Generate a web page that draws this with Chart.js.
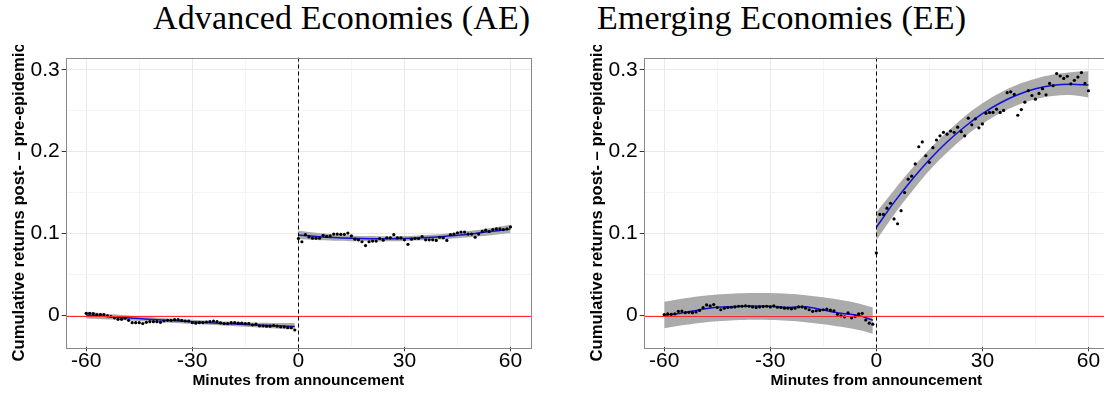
<!DOCTYPE html>
<html><head><meta charset="utf-8">
<script src="https://cdn.jsdelivr.net/npm/chart.js@4.4.0/dist/chart.umd.min.js"></script>
<style>
html,body{margin:0;padding:0;background:#fff;width:1104px;height:395px;overflow:hidden;position:relative}
.title{position:absolute;font-family:'Liberation Serif','Times New Roman',serif;font-size:34px;line-height:34px;letter-spacing:0.15px;white-space:nowrap;color:#000}
.box{position:absolute;top:45px;height:350px;width:545px}
canvas{display:block}
</style></head><body>
<div class="title" style="left:153px;top:1px">Advanced Economies (AE)</div>
<div class="title" style="left:597px;top:1px">Emerging Economies (EE)</div>
<div class="box" style="left:0"><canvas id="c1" width="545" height="350"></canvas></div>
<div class="box" style="left:578px"><canvas id="c2" width="545" height="350"></canvas></div>
<script>
// ---- categories ----
const minutesPre = [-60,-59,-58,-57,-56,-55,-54,-53,-52,-51,-50,-49,-48,-47,-46,-45,-44,-43,-42,-41,-40,-39,-38,-37,-36,-35,-34,-33,-32,-31,-30,-29,-28,-27,-26,-25,-24,-23,-22,-21,-20,-19,-18,-17,-16,-15,-14,-13,-12,-11,-10,-9,-8,-7,-6,-5,-4,-3,-2,-1];
const minutesPost = [0,1,2,3,4,5,6,7,8,9,10,11,12,13,14,15,16,17,18,19,20,21,22,23,24,25,26,27,28,29,30,31,32,33,34,35,36,37,38,39,40,41,42,43,44,45,46,47,48,49,50,51,52,53,54,55,56,57,58,59,60];
const fitMinutesPre = [-60,-55,-50,-45,-40,-35,-30,-25,-20,-15,-10,-5,-1];
const fitMinutesPost = [0,5,10,15,20,25,30,35,40,45,50,55,60];

// ---- Advanced Economies ----
const aePre = [0.0027,0.0027,0.0023,0.0011,0.0011,0.0011,-0.0004,-0.0012,-0.0028,-0.0047,
 -0.0047,-0.0032,-0.0059,-0.0087,-0.0087,-0.0087,-0.0098,-0.0083,-0.0075,-0.0075,
 -0.0075,-0.0083,-0.0067,-0.0059,-0.0059,-0.0051,-0.0051,-0.0059,-0.0067,-0.0067,
 -0.0087,-0.0094,-0.0087,-0.0087,-0.0079,-0.0075,-0.0067,-0.0075,-0.0090,-0.0098,
 -0.0098,-0.0087,-0.0087,-0.0094,-0.0094,-0.0098,-0.0098,-0.0114,-0.0106,-0.0126,
 -0.0126,-0.0130,-0.0130,-0.0122,-0.0130,-0.0138,-0.0138,-0.0149,-0.0149,-0.0177];
const aePost = [0.0940,0.0900,0.0987,0.0959,0.0944,0.0944,0.0944,0.0979,0.0967,0.0971,
 0.0994,0.0994,0.0991,0.0991,0.1006,0.0971,0.0932,0.0924,0.0900,0.0853,
 0.0900,0.0908,0.0908,0.0940,0.0920,0.0948,0.0948,0.0987,0.0948,0.0948,
 0.0924,0.0869,0.0932,0.0940,0.0940,0.0963,0.0924,0.0924,0.0924,0.0916,
 0.0955,0.0948,0.0916,0.0987,0.0994,0.1010,0.1018,0.1018,0.0994,0.0994,
 0.0955,0.0994,0.1026,0.1041,0.1026,0.1049,0.1057,0.1057,0.1049,0.1057,0.1081];
const aeFitPre = [0.0005,-0.0010,-0.0024,-0.0038,-0.0052,-0.0065,-0.0077,-0.0089,-0.0100,-0.0110,-0.0119,-0.0127,-0.0133];
const aeUpPre  = [0.0045,0.0025,0.0007,-0.0010,-0.0026,-0.0040,-0.0052,-0.0064,-0.0074,-0.0082,-0.0088,-0.0092,-0.0094];
const aeLoPre  = [-0.0035,-0.0045,-0.0055,-0.0066,-0.0078,-0.0090,-0.0102,-0.0114,-0.0126,-0.0138,-0.0150,-0.0162,-0.0172];
const aeFitPost = [0.0983,0.0965,0.0951,0.0942,0.0937,0.0936,0.0940,0.0949,0.0961,0.0979,0.1001,0.1027,0.1057];
const aeUpPost  = [0.1033,0.1009,0.0990,0.0977,0.0969,0.0967,0.0970,0.0980,0.0993,0.1014,0.1040,0.1071,0.1107];
const aeLoPost  = [0.0933,0.0921,0.0912,0.0907,0.0905,0.0905,0.0910,0.0918,0.0929,0.0944,0.0962,0.0983,0.1007];

// ---- Emerging Economies ----
const eePre = [0.0011,0.0019,0.0015,0.0019,0.0051,0.0054,0.0035,0.0039,0.0035,0.0043,
 0.0062,0.0098,0.0129,0.0117,0.0133,0.0098,0.0070,0.0090,0.0098,0.0101,
 0.0105,0.0113,0.0113,0.0117,0.0113,0.0105,0.0098,0.0105,0.0109,0.0113,
 0.0105,0.0117,0.0101,0.0098,0.0090,0.0090,0.0082,0.0090,0.0105,0.0105,
 0.0090,0.0070,0.0051,0.0058,0.0062,0.0070,0.0078,0.0066,0.0058,0.0015,
 -0.0004,-0.0016,0.0031,-0.0028,-0.0012,0.0019,0.0027,-0.0055,-0.0094,-0.0106];
const eePost = [0.0764,0.1234,0.1234,0.1310,0.1370,0.1179,0.1120,0.1280,0.1500,0.1664,
 0.1700,0.1850,0.2060,0.2119,0.1950,0.1870,0.2048,0.2142,0.2193,0.2236,
 0.2213,0.2252,0.2236,0.2299,0.2244,0.2193,0.2409,0.2327,0.2401,0.2291,
 0.2338,0.2468,0.2479,0.2479,0.2518,0.2479,0.2503,0.2720,0.2730,0.2698,
 0.2444,0.2514,0.2604,0.2745,0.2685,0.2640,0.2710,0.2768,0.2693,0.2832,
 0.2804,0.2953,0.2923,0.2894,0.2920,0.2826,0.2871,0.2910,0.2965,0.2832,0.2743];
const eeFitPre = [0.0004,0.0031,0.0071,0.0102,0.0110,0.0117,0.0114,0.0098,0.0106,0.0067,0.0028,0.0000,-0.0058];
const eeUpPre  = [0.0168,0.0205,0.0235,0.0256,0.0270,0.0276,0.0274,0.0265,0.0248,0.0222,0.0189,0.0148,0.0100];
const eeLoPre  = [-0.0157,-0.0120,-0.0090,-0.0070,-0.0058,-0.0053,-0.0055,-0.0064,-0.0081,-0.0106,-0.0138,-0.0178,-0.0222];
const eeFitPost = [0.1077,0.1381,0.1654,0.1900,0.2117,0.2304,0.2463,0.2594,0.2694,0.2767,0.2810,0.2824,0.2812];
const eeUpPost  = [0.1260,0.1530,0.1790,0.2030,0.2240,0.2430,0.2590,0.2720,0.2820,0.2890,0.2940,0.2970,0.2980];
const eeLoPost  = [0.0920,0.1230,0.1510,0.1770,0.1990,0.2180,0.2340,0.2470,0.2570,0.2640,0.2680,0.2690,0.2660];

// ---- axes ----
const xGridValues = [-60,-45,-30,-15,0,15,30,45,60];
const xTickValues = [-60,-30,0,30,60];
const xTickLabels = ['-60','-30','0','30','60'];
const yGridValues = [0,0.05,0.1,0.15,0.2,0.25,0.3];
const yTickValues = [0,0.1,0.2,0.3];
const yTickLabels = ['0','0.1','0.2','0.3'];
const xRange = [-65.8, 65.8];
const yRange = [-0.0388, 0.3149];
const hLineValue = 0;
const vLineValue = 0;
const xTitle = 'Minutes from announcement';
const yTitle = 'Cumulative returns post- \u2013 pre-epidemic';

const pts = (xs, ys) => xs.map((x,i)=>({x, y: ys[i]}));
const idxOf = (arr, v) => arr.findIndex(a => Math.abs(a - v) < 1e-9);

const SANS = "'Liberation Sans', Arial, Helvetica, sans-serif";
const BAND = '#ababab';
const FIT = '#1010d8';

const refPlugin = {
  id: 'refLines',
  afterDatasetsDraw(chart) {
    const {ctx, chartArea: a, scales: {x, y}} = chart;
    ctx.save();
    ctx.beginPath(); ctx.rect(a.left, a.top, a.right - a.left, a.bottom - a.top); ctx.clip();
    const y0 = Math.round(y.getPixelForValue(hLineValue)) + 0.5;
    ctx.strokeStyle = '#ff2a2a'; ctx.lineWidth = 1;
    ctx.beginPath(); ctx.moveTo(a.left, y0); ctx.lineTo(a.right, y0); ctx.stroke();
    const x0 = Math.round(x.getPixelForValue(vLineValue)) + 0.5;
    ctx.strokeStyle = '#000'; ctx.setLineDash([4, 3]);
    ctx.beginPath(); ctx.moveTo(x0, a.top); ctx.lineTo(x0, a.bottom); ctx.stroke();
    ctx.restore();
    ctx.save();
    ctx.strokeStyle = '#8a8a8a'; ctx.lineWidth = 1;
    ctx.strokeRect(Math.round(a.left) + 0.5, Math.round(a.top) + 0.5, Math.round(a.right - a.left), Math.round(a.bottom - a.top));
    ctx.restore();
  }
};

function makeChart(id, pre, post, fitPre, upPre, loPre, fitPost, upPost, loPost) {
  const bandStyle = {borderWidth: 0, pointRadius: 0, tension: 0.35, backgroundColor: BAND};
  return new Chart(document.getElementById(id), {
    type: 'line',
    data: {
      datasets: [
        {data: pts(minutesPre, pre), showLine: false, pointRadius: 1.6, pointBackgroundColor: '#000', pointBorderWidth: 0},
        {data: pts(minutesPost, post), showLine: false, pointRadius: 1.6, pointBackgroundColor: '#000', pointBorderWidth: 0},
        {data: pts(fitMinutesPre, fitPre), borderColor: FIT, borderWidth: 1.5, pointRadius: 0, tension: 0.35, fill: false},
        {data: pts(fitMinutesPost, fitPost), borderColor: FIT, borderWidth: 1.5, pointRadius: 0, tension: 0.35, fill: false},
        Object.assign({data: pts(fitMinutesPre, loPre), fill: false}, bandStyle),
        Object.assign({data: pts(fitMinutesPre, upPre), fill: '-1'}, bandStyle),
        Object.assign({data: pts(fitMinutesPost, loPost), fill: false}, bandStyle),
        Object.assign({data: pts(fitMinutesPost, upPost), fill: '-1'}, bandStyle)
      ]
    },
    options: {
      responsive: false, animation: false, devicePixelRatio: 1,
      layout: {padding: {left: 0, top: 1.3, right: 14, bottom: 0}},
      plugins: {legend: {display: false}, tooltip: {enabled: false}},
      scales: {
        x: {
          type: 'linear', min: xRange[0], max: xRange[1],
          afterBuildTicks: s => { s.ticks = xGridValues.map(v => ({value: v})); },
          afterFit: s => { s.height = 47.7; },
          ticks: {
            autoSkip: false, maxRotation: 0, minRotation: 0, padding: -1, color: '#000',
            font: {family: SANS, size: 21, lineHeight: 1},
            callback: v => { const i = idxOf(xTickValues, v); return i >= 0 ? xTickLabels[i] : ''; }
          },
          grid: {
            color: c => idxOf(xTickValues, c.tick.value) >= 0 ? '#e9e9e9' : '#f4f4f4',
            lineWidth: 1, tickLength: 4,
            tickColor: c => idxOf(xTickValues, c.tick.value) >= 0 ? '#333' : 'rgba(0,0,0,0)'
          },
          border: {display: false},
          title: {display: true, text: xTitle, color: '#000', padding: {top: 0, bottom: 4.5},
                  font: {family: SANS, size: 15.5, weight: 'bold'}}
        },
        y: {
          type: 'linear', min: yRange[0], max: yRange[1],
          afterBuildTicks: s => { s.ticks = yGridValues.map(v => ({value: v})); },
          afterFit: s => { s.width = 65.7; },
          ticks: {
            autoSkip: false, padding: 2, color: '#000',
            font: {family: SANS, size: 21, lineHeight: 1},
            callback: v => { const i = idxOf(yTickValues, v); return i >= 0 ? yTickLabels[i] : ''; }
          },
          grid: {
            color: c => idxOf(yTickValues, c.tick.value) >= 0 ? '#e9e9e9' : '#f4f4f4',
            lineWidth: 1, tickLength: 4,
            tickColor: c => idxOf(yTickValues, c.tick.value) >= 0 ? '#333' : 'rgba(0,0,0,0)'
          },
          border: {display: false},
          title: {display: true, text: yTitle, color: '#000', padding: {top: 9.5, bottom: 0},
                  font: {family: SANS, size: 16.6, weight: 'bold'}}
        }
      }
    },
    plugins: [refPlugin]
  });
}

makeChart('c1', aePre, aePost, aeFitPre, aeUpPre, aeLoPre, aeFitPost, aeUpPost, aeLoPost);
makeChart('c2', eePre, eePost, eeFitPre, eeUpPre, eeLoPre, eeFitPost, eeUpPost, eeLoPost);
</script>
</body></html>
